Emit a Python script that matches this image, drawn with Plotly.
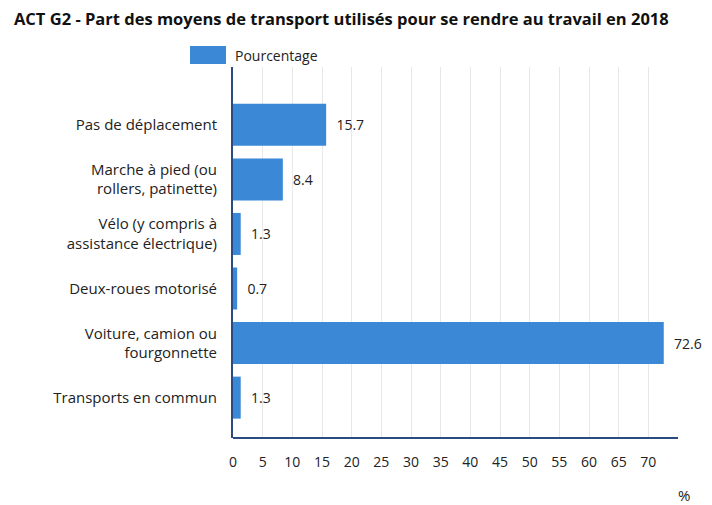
import plotly.graph_objects as go

categories = [
    "Pas de déplacement",
    "Marche à pied (ou<br>rollers, patinette)",
    "Vélo (y compris à<br>assistance électrique)",
    "Deux-roues motorisé",
    "Voiture, camion ou<br>fourgonnette",
    "Transports en commun",
]
values = [15.7, 8.4, 1.3, 0.7, 72.6, 1.3]
x_ticks = list(range(0, 75, 5))
series_name = "Pourcentage"

positions = list(range(len(categories)))
bar_color = "#3a88d6"
axis_color = "#2a4a80"

fig = go.Figure()
fig.add_trace(go.Bar(
    x=values,
    y=positions,
    orientation="h",
    name=series_name,
    marker=dict(color=bar_color, line=dict(width=0)),
    width=0.77,
    # nbsp padding pushes the value labels away from the bar end
    text=[f"\u00a0\u00a0{v:.1f}" for v in values],
    textposition="outside",
    textfont=dict(color="#222", size=14),
    cliponaxis=False,
    showlegend=False,
))

# legend drawn by hand so the swatch matches the big rectangle
fig.add_shape(
    type="rect", xref="paper", yref="paper",
    x0=-0.0966, x1=-0.0157, y0=1.008, y1=1.0566,
    fillcolor=bar_color, line=dict(width=0),
)
fig.add_annotation(
    text=series_name, xref="paper", yref="paper", x=0.0, y=1.032,
    xanchor="left", yanchor="middle", showarrow=False,
    font=dict(size=14, color="#222"),
)

# bottom axis line
fig.add_shape(
    type="line", xref="paper", yref="paper",
    x0=0, x1=1, y0=0, y1=0, layer="above",
    line=dict(color=axis_color, width=2),
)

fig.add_annotation(
    text="%", xref="paper", yref="paper", x=1.031, y=-0.154,
    xanchor="right", yanchor="middle", showarrow=False,
    font=dict(size=15, color="#222"),
)

fig.update_layout(
    width=704,
    height=497,
    font=dict(family="Open Sans", size=14, color="#222"),
    paper_bgcolor="white",
    plot_bgcolor="white",
    margin=dict(l=225, r=34, t=59, b=67, autoexpand=False),
    title=dict(
        text="<b>ACT G2 - Part des moyens de transport utilisés pour se rendre au travail en 2018</b>",
        x=0.0085, xanchor="left", y=0.977, yanchor="middle",
        font=dict(size=16.5, color="#111"),
    ),
    showlegend=False,
)

fig.update_xaxes(
    range=[0, 75],
    tickvals=x_ticks,
    showgrid=True, gridcolor="#e8e8e8", gridwidth=1,
    showline=False,
    ticks="", ticklabelstandoff=14,
    zeroline=False, automargin=False,
    tickfont=dict(size=14),
)
fig.update_yaxes(
    range=[5.74, -1.06],
    tickvals=positions,
    ticktext=categories,
    showgrid=False, zeroline=False,
    showline=True, linecolor=axis_color, linewidth=2,
    ticks="", ticklabelstandoff=11, automargin=False,
    tickfont=dict(size=15),
)

fig.write_html("out.html")
